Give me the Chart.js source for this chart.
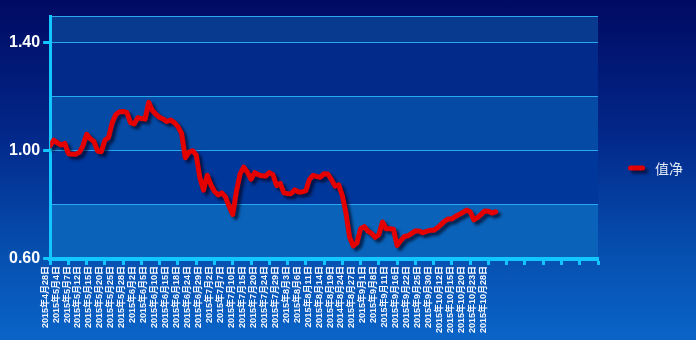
<!DOCTYPE html>
<html><head><meta charset="utf-8">
<script src="https://cdn.jsdelivr.net/npm/chart.js@4.4.0/dist/chart.umd.min.js"></script>
<style>
html,body{margin:0;padding:0;width:696px;height:340px;overflow:hidden;
background:linear-gradient(to bottom,#000a62 0%,#02288a 40%,#0650b0 75%,#0a64c8 100%);}
canvas{display:block;}
</style></head><body>
<canvas id="c" width="696" height="340"></canvas>
<script>
// ---- data ----
const seriesName = '值净';
const dateLabels = ["2015年4月28日","2015年5月4日","2015年5月7日","2015年5月12日","2015年5月15日","2015年5月20日","2015年5月25日","2015年5月28日","2015年6月2日","2015年6月5日","2015年6月10日","2015年6月15日","2015年6月18日","2015年6月24日","2015年6月29日","2015年7月2日","2015年7月7日","2015年7月10日","2015年7月15日","2015年7月20日","2015年7月24日","2015年7月29日","2015年8月3日","2015年8月6日","2015年8月11日","2015年8月14日","2015年8月19日","2014年8月24日","2015年8月27日","2015年9月1日","2015年9月8日","2015年9月11日","2015年9月16日","2015年9月22日","2015年9月25日","2015年9月30日","2015年10月12日","2015年10月15日","2015年10月20日","2015年10月23日","2015年10月28日"];
const navValues = [
1.020,1.040,1.030,1.022,1.028,0.990,0.988,0.988,0.995,1.020,
1.062,1.045,1.035,1.000,0.997,1.040,1.050,1.105,1.135,1.145,
1.146,1.143,1.105,1.100,1.123,1.120,1.118,1.180,1.150,1.135,
1.124,1.118,1.109,1.115,1.105,1.090,1.065,0.975,0.995,1.001,
0.985,0.900,0.855,0.910,0.875,0.850,0.837,0.845,0.830,0.795,
0.765,0.850,0.915,0.940,0.922,0.895,0.920,0.912,0.908,0.907,
0.920,0.912,0.872,0.880,0.845,0.842,0.842,0.856,0.848,0.848,
0.853,0.895,0.910,0.905,0.903,0.916,0.915,0.895,0.870,0.875,
0.835,0.770,0.680,0.648,0.660,0.712,0.720,0.703,0.695,0.680,
0.690,0.737,0.712,0.712,0.710,0.650,0.668,0.683,0.686,0.695,
0.704,0.704,0.697,0.702,0.706,0.706,0.715,0.727,0.740,0.748,
0.748,0.758,0.765,0.772,0.781,0.775,0.745,0.753,0.765,0.778,
0.777,0.770,0.775];
const yLabelValues = [0.60, 1.00, 1.40];
const yGridValues = [0.60, 0.80, 1.00, 1.20, 1.40, 1.50];

// ---- settings ----
const LABEL_EVERY = 3;   // one date label every 3 trading days
const TICK_EVERY = 5;    // tick marks every 5 trading days
const X_MAX = 150;
const CYAN = '#12c6ff';
const bandColors = ['#0a63b9','#00379a','#054aa4','#022a8a','#083a90'];

const isLabelY = v => yLabelValues.some(t => Math.abs(t - v) < 1e-6);

const bandPlugin = {
  id: 'bands',
  beforeDraw(chart) {
    const {ctx, chartArea: a, scales: {y}} = chart;
    ctx.save();
    for (let i = 0; i < yGridValues.length - 1; i++) {
      const y0 = y.getPixelForValue(yGridValues[i]);
      const y1 = y.getPixelForValue(yGridValues[i + 1]);
      ctx.fillStyle = bandColors[i];
      ctx.fillRect(a.left, y1, a.right - a.left, y0 - y1);
    }
    ctx.restore();
  }
};
const shadowPlugin = {
  id: 'lineShadow',
  beforeDatasetsDraw(chart) {
    const ctx = chart.ctx; ctx.save();
    ctx.shadowColor = 'rgba(0,0,25,0.65)';
    ctx.shadowBlur = 3; ctx.shadowOffsetX = 3; ctx.shadowOffsetY = 3;
  },
  afterDatasetsDraw(chart) { chart.ctx.restore(); }
};
// legend drawn at the right of the plot, vertically centred on the canvas
const sideLegend = {
  id: 'sideLegend',
  afterDraw(chart) {
    const {ctx, chartArea} = chart;
    const ds = chart.data.datasets[0];
    const x0 = chartArea.right + 30;
    const yc = chart.height / 2 - 2;
    ctx.save();
    ctx.shadowColor = 'rgba(0,0,25,0.65)';
    ctx.shadowBlur = 3; ctx.shadowOffsetX = 3; ctx.shadowOffsetY = 3;
    ctx.strokeStyle = ds.borderColor; ctx.lineWidth = 5; ctx.lineCap = 'round';
    ctx.beginPath(); ctx.moveTo(x0 + 2.5, yc); ctx.lineTo(x0 + 14.5, yc); ctx.stroke();
    ctx.restore();
    ctx.save();
    ctx.fillStyle = '#e2eaf6';
    ctx.font = '14px "Noto Sans CJK SC", sans-serif';
    ctx.textBaseline = 'middle'; ctx.textAlign = 'left';
    ctx.fillText(ds.label, x0 + 27, yc + 1);
    ctx.restore();
  }
};

new Chart(document.getElementById('c'), {
  type: 'line',
  data: {
    datasets: [{
      label: seriesName,
      data: navValues.map((v, i) => ({x: i, y: v})),
      borderColor: '#e50000',
      backgroundColor: '#e50000',
      borderWidth: 5,
      borderCapStyle: 'round',
      borderJoinStyle: 'round',
      pointRadius: 0,
      tension: 0,
      fill: false
    }]
  },
  options: {
    responsive: false,
    animation: false,
    layout: {padding: {left: 6, top: 16, right: 98, bottom: 6}},
    plugins: {
      tooltip: {enabled: false},
      legend: {display: false}
    },
    scales: {
      x: {
        type: 'linear', min: 0, max: X_MAX,
        border: {color: CYAN, width: 4},
        grid: {
          drawOnChartArea: false, drawTicks: true, tickLength: 6, tickWidth: 3,
          tickColor: c => (c.tick && c.tick.value % TICK_EVERY === 0) ? CYAN : 'rgba(0,0,0,0)'
        },
        ticks: {
          stepSize: 1, autoSkip: false, maxRotation: 90, minRotation: 90,
          labelOffset: -5, padding: 1, color: '#f4f7ff',
          font: {size: 9, weight: 'bold', family: '"Liberation Sans", "Noto Sans CJK SC", sans-serif'},
          callback: v => {
            if (v % LABEL_EVERY === 0) {
              const k = v / LABEL_EVERY;
              if (k < dateLabels.length) return dateLabels[k];
            }
            return '';
          }
        }
      },
      y: {
        type: 'linear', min: 0.6, max: 1.5,
        border: {color: CYAN, width: 3},
        grid: {
          color: '#2aa8ee', lineWidth: 1, tickLength: 7, tickWidth: 3,
          tickColor: c => (c.tick && isLabelY(c.tick.value)) ? CYAN : 'rgba(0,0,0,0)'
        },
        ticks: {
          stepSize: 0.2, padding: 3, color: '#ffffff',
          font: {size: 16, weight: 'bold', family: '"Liberation Sans", sans-serif'},
          callback: v => isLabelY(v) ? v.toFixed(2) : ''
        }
      }
    }
  },
  plugins: [bandPlugin, shadowPlugin, sideLegend]
});
</script>
</body></html>
